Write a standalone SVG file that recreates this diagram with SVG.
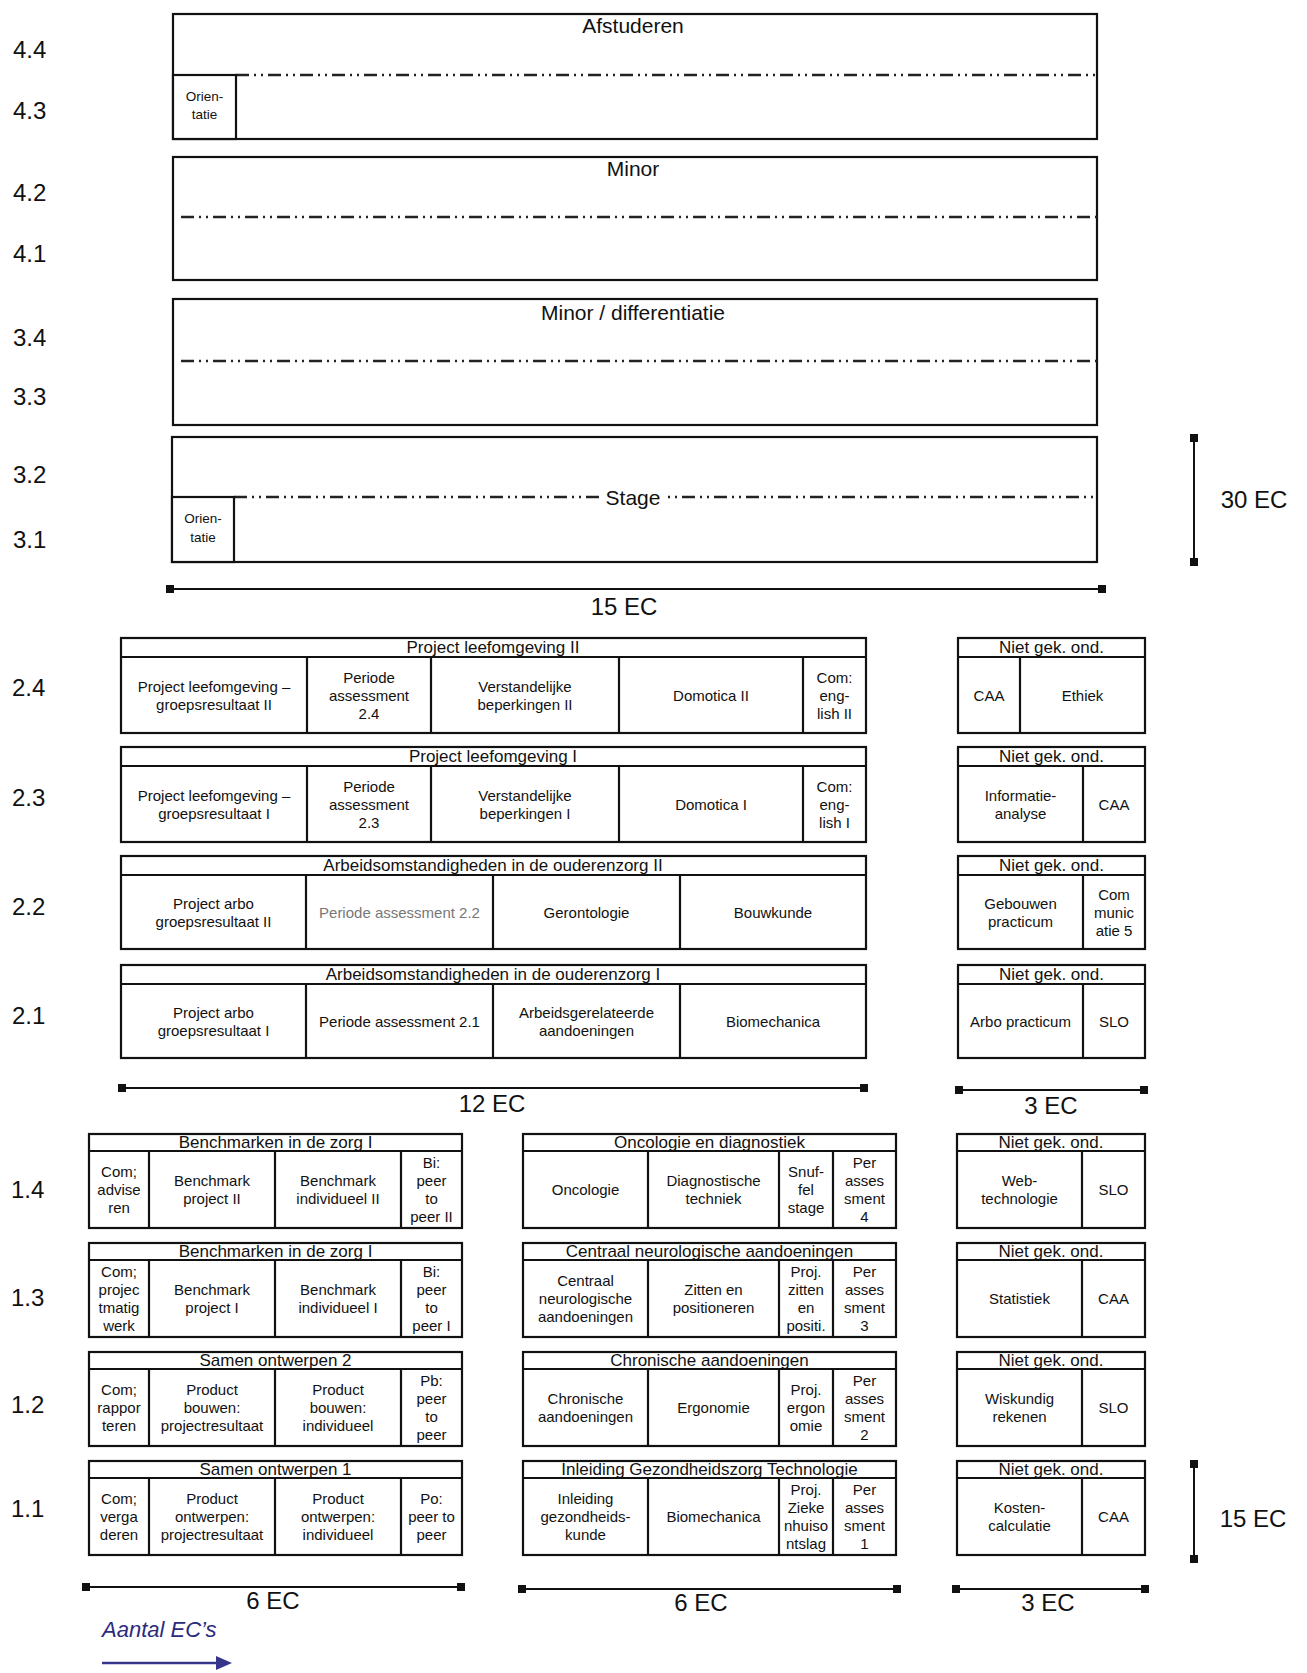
<svg xmlns="http://www.w3.org/2000/svg" width="1307" height="1673" viewBox="0 0 1307 1673">
<style>
.box{fill:#fff;stroke:#111;stroke-width:2.2}
.ln{stroke:#111;stroke-width:2.2;fill:none}
.dd{stroke:#222;stroke-width:2.4;stroke-dasharray:13 5 2 5 2 5;fill:none}
.t{font-family:"Liberation Sans",Arial,sans-serif;fill:#111;text-anchor:middle;dominant-baseline:central}
.c{font-size:15px}
.o{font-size:13.5px}
.h{font-size:17px}
.ti{font-size:21px}
.yl{font-size:24px;text-anchor:start}
.ec{font-size:24px}
.bar{stroke:#111;stroke-width:2;marker-start:url(#cap);marker-end:url(#cap)}
.grey{fill:#777}
</style>
<defs>
<marker id="cap" markerUnits="userSpaceOnUse" markerWidth="10" markerHeight="10" refX="5" refY="5" orient="auto">
<rect x="1" y="1" width="8" height="8" fill="#111"/>
</marker>
</defs>
<rect width="1307" height="1673" fill="#fff"/>

<!-- Year labels -->
<g id="year-labels" class="t yl">
<text x="13" y="49">4.4</text>
<text x="13" y="110">4.3</text>
<text x="13" y="192">4.2</text>
<text x="13" y="253">4.1</text>
<text x="13" y="337">3.4</text>
<text x="13" y="396">3.3</text>
<text x="13" y="474">3.2</text>
<text x="13" y="539">3.1</text>
<text x="12" y="687">2.4</text>
<text x="12" y="797">2.3</text>
<text x="12" y="906">2.2</text>
<text x="12" y="1015">2.1</text>
<text x="11" y="1189">1.4</text>
<text x="11" y="1297">1.3</text>
<text x="11" y="1404">1.2</text>
<text x="11" y="1508">1.1</text>
</g>

<!-- Year 4 / 3 -->
<g id="afstuderen">
<rect class="box" x="173" y="14" width="924" height="125"/>
<line class="dd" x1="236" y1="75" x2="1097" y2="75"/>
<text class="t ti" x="633" y="25">Afstuderen</text>
</g>
<g id="orientatie-4">
<rect class="box" x="173" y="75" width="63" height="64"/>
<text class="t o" x="204.5" y="96">Orien-</text>
<text class="t o" x="204.5" y="114">tatie</text>
</g>
<g id="minor">
<rect class="box" x="173" y="157" width="924" height="123"/>
<line class="dd" x1="181" y1="217" x2="1097" y2="217"/>
<text class="t ti" x="633" y="168">Minor</text>
</g>
<g id="minor-differentiatie">
<rect class="box" x="173" y="299" width="924" height="126"/>
<line class="dd" x1="181" y1="361" x2="1097" y2="361"/>
<text class="t ti" x="633" y="312">Minor / differentiatie</text>
</g>
<g id="stage">
<rect class="box" x="172" y="437" width="925" height="125"/>
<line class="dd" x1="234" y1="497" x2="1097" y2="497"/>
<rect x="601" y="485" width="64" height="24" fill="#fff"/>
<text class="t ti" x="633" y="497">Stage</text>
</g>
<g id="orientatie-3">
<rect class="box" x="172" y="497" width="62" height="65"/>
<text class="t o" x="203" y="518">Orien-</text>
<text class="t o" x="203" y="537">tatie</text>
</g>

<!-- Year 2 -->
<g id="y24" class="t c">
<rect class="box" x="121" y="638" width="745" height="95"/>
<line class="ln" x1="121" y1="657" x2="866" y2="657"/>
<line class="ln" x1="307" y1="657" x2="307" y2="733"/>
<line class="ln" x1="431" y1="657" x2="431" y2="733"/>
<line class="ln" x1="619" y1="657" x2="619" y2="733"/>
<line class="ln" x1="803" y1="657" x2="803" y2="733"/>
<text class="h" x="493" y="647">Project leefomgeving II</text>
<text x="214" y="686">Project leefomgeving –</text>
<text x="214" y="704">groepsresultaat II</text>
<text x="369" y="677">Periode</text>
<text x="369" y="695">assessment</text>
<text x="369" y="713">2.4</text>
<text x="525" y="686">Verstandelijke</text>
<text x="525" y="704">beperkingen II</text>
<text x="711" y="695">Domotica II</text>
<text x="834.5" y="677">Com:</text>
<text x="834.5" y="695">eng-</text>
<text x="834.5" y="713">lish II</text>
</g>
<g id="y23" class="t c">
<rect class="box" x="121" y="747" width="745" height="95"/>
<line class="ln" x1="121" y1="766" x2="866" y2="766"/>
<line class="ln" x1="307" y1="766" x2="307" y2="842"/>
<line class="ln" x1="431" y1="766" x2="431" y2="842"/>
<line class="ln" x1="619" y1="766" x2="619" y2="842"/>
<line class="ln" x1="803" y1="766" x2="803" y2="842"/>
<text class="h" x="493" y="756">Project leefomgeving I</text>
<text x="214" y="795">Project leefomgeving –</text>
<text x="214" y="813">groepsresultaat I</text>
<text x="369" y="786">Periode</text>
<text x="369" y="804">assessment</text>
<text x="369" y="822">2.3</text>
<text x="525" y="795">Verstandelijke</text>
<text x="525" y="813">beperkingen I</text>
<text x="711" y="804">Domotica I</text>
<text x="834.5" y="786">Com:</text>
<text x="834.5" y="804">eng-</text>
<text x="834.5" y="822">lish I</text>
</g>
<g id="y22" class="t c">
<rect class="box" x="121" y="856" width="745" height="93"/>
<line class="ln" x1="121" y1="875" x2="866" y2="875"/>
<line class="ln" x1="306" y1="875" x2="306" y2="949"/>
<line class="ln" x1="493" y1="875" x2="493" y2="949"/>
<line class="ln" x1="680" y1="875" x2="680" y2="949"/>
<text class="h" x="493" y="865">Arbeidsomstandigheden in de ouderenzorg II</text>
<text x="213.5" y="903">Project arbo</text>
<text x="213.5" y="921">groepsresultaat II</text>
<text class="grey" x="399.5" y="912">Periode assessment 2.2</text>
<text x="586.5" y="912">Gerontologie</text>
<text x="773" y="912">Bouwkunde</text>
</g>
<g id="y21" class="t c">
<rect class="box" x="121" y="965" width="745" height="93"/>
<line class="ln" x1="121" y1="984" x2="866" y2="984"/>
<line class="ln" x1="306" y1="984" x2="306" y2="1058"/>
<line class="ln" x1="493" y1="984" x2="493" y2="1058"/>
<line class="ln" x1="680" y1="984" x2="680" y2="1058"/>
<text class="h" x="493" y="974">Arbeidsomstandigheden in de ouderenzorg I</text>
<text x="213.5" y="1012">Project arbo</text>
<text x="213.5" y="1030">groepsresultaat I</text>
<text x="399.5" y="1021">Periode assessment 2.1</text>
<text x="586.5" y="1012">Arbeidsgerelateerde</text>
<text x="586.5" y="1030">aandoeningen</text>
<text x="773" y="1021">Biomechanica</text>
</g>

<g id="ngo24" class="t c">
<rect class="box" x="958" y="638" width="187" height="95"/>
<line class="ln" x1="958" y1="657" x2="1145" y2="657"/>
<line class="ln" x1="1020" y1="657" x2="1020" y2="733"/>
<text class="h" x="1051.5" y="647">Niet gek. ond.</text>
<text x="989" y="695">CAA</text>
<text x="1082.5" y="695">Ethiek</text>
</g>
<g id="ngo23" class="t c">
<rect class="box" x="958" y="747" width="187" height="95"/>
<line class="ln" x1="958" y1="766" x2="1145" y2="766"/>
<line class="ln" x1="1083" y1="766" x2="1083" y2="842"/>
<text class="h" x="1051.5" y="756">Niet gek. ond.</text>
<text x="1020.5" y="795">Informatie-</text>
<text x="1020.5" y="813">analyse</text>
<text x="1114" y="804">CAA</text>
</g>
<g id="ngo22" class="t c">
<rect class="box" x="958" y="856" width="187" height="93"/>
<line class="ln" x1="958" y1="875" x2="1145" y2="875"/>
<line class="ln" x1="1083" y1="875" x2="1083" y2="949"/>
<text class="h" x="1051.5" y="865">Niet gek. ond.</text>
<text x="1020.5" y="903">Gebouwen</text>
<text x="1020.5" y="921">practicum</text>
<text x="1114" y="894">Com</text>
<text x="1114" y="912">munic</text>
<text x="1114" y="930">atie 5</text>
</g>
<g id="ngo21" class="t c">
<rect class="box" x="958" y="965" width="187" height="93"/>
<line class="ln" x1="958" y1="984" x2="1145" y2="984"/>
<line class="ln" x1="1083" y1="984" x2="1083" y2="1058"/>
<text class="h" x="1051.5" y="974">Niet gek. ond.</text>
<text x="1020.5" y="1021">Arbo practicum</text>
<text x="1114" y="1021">SLO</text>
</g>

<!-- Year 1 left -->
<g id="y14a" class="t c">
<rect class="box" x="89" y="1134" width="373" height="94"/>
<line class="ln" x1="89" y1="1151" x2="462" y2="1151"/>
<line class="ln" x1="149" y1="1151" x2="149" y2="1228"/>
<line class="ln" x1="275" y1="1151" x2="275" y2="1228"/>
<line class="ln" x1="401" y1="1151" x2="401" y2="1228"/>
<text class="h" x="275.5" y="1142">Benchmarken in de zorg I</text>
<text x="119" y="1171">Com;</text>
<text x="119" y="1189">advise</text>
<text x="119" y="1207">ren</text>
<text x="212" y="1180">Benchmark</text>
<text x="212" y="1198">project II</text>
<text x="338" y="1180">Benchmark</text>
<text x="338" y="1198">individueel II</text>
<text x="431.5" y="1162">Bi:</text>
<text x="431.5" y="1180">peer</text>
<text x="431.5" y="1198">to</text>
<text x="431.5" y="1216">peer II</text>
</g>
<g id="y13a" class="t c">
<rect class="box" x="89" y="1243" width="373" height="94"/>
<line class="ln" x1="89" y1="1260" x2="462" y2="1260"/>
<line class="ln" x1="149" y1="1260" x2="149" y2="1337"/>
<line class="ln" x1="275" y1="1260" x2="275" y2="1337"/>
<line class="ln" x1="401" y1="1260" x2="401" y2="1337"/>
<text class="h" x="275.5" y="1251">Benchmarken in de zorg I</text>
<text x="119" y="1271">Com;</text>
<text x="119" y="1289">projec</text>
<text x="119" y="1307">tmatig</text>
<text x="119" y="1325">werk</text>
<text x="212" y="1289">Benchmark</text>
<text x="212" y="1307">project I</text>
<text x="338" y="1289">Benchmark</text>
<text x="338" y="1307">individueel I</text>
<text x="431.5" y="1271">Bi:</text>
<text x="431.5" y="1289">peer</text>
<text x="431.5" y="1307">to</text>
<text x="431.5" y="1325">peer I</text>
</g>
<g id="y12a" class="t c">
<rect class="box" x="89" y="1352" width="373" height="94"/>
<line class="ln" x1="89" y1="1369" x2="462" y2="1369"/>
<line class="ln" x1="149" y1="1369" x2="149" y2="1446"/>
<line class="ln" x1="275" y1="1369" x2="275" y2="1446"/>
<line class="ln" x1="401" y1="1369" x2="401" y2="1446"/>
<text class="h" x="275.5" y="1360">Samen ontwerpen 2</text>
<text x="119" y="1389">Com;</text>
<text x="119" y="1407">rappor</text>
<text x="119" y="1425">teren</text>
<text x="212" y="1389">Product</text>
<text x="212" y="1407">bouwen:</text>
<text x="212" y="1425">projectresultaat</text>
<text x="338" y="1389">Product</text>
<text x="338" y="1407">bouwen:</text>
<text x="338" y="1425">individueel</text>
<text x="431.5" y="1380">Pb:</text>
<text x="431.5" y="1398">peer</text>
<text x="431.5" y="1416">to</text>
<text x="431.5" y="1434">peer</text>
</g>
<g id="y11a" class="t c">
<rect class="box" x="89" y="1461" width="373" height="94"/>
<line class="ln" x1="89" y1="1478" x2="462" y2="1478"/>
<line class="ln" x1="149" y1="1478" x2="149" y2="1555"/>
<line class="ln" x1="275" y1="1478" x2="275" y2="1555"/>
<line class="ln" x1="401" y1="1478" x2="401" y2="1555"/>
<text class="h" x="275.5" y="1469">Samen ontwerpen 1</text>
<text x="119" y="1498">Com;</text>
<text x="119" y="1516">verga</text>
<text x="119" y="1534">deren</text>
<text x="212" y="1498">Product</text>
<text x="212" y="1516">ontwerpen:</text>
<text x="212" y="1534">projectresultaat</text>
<text x="338" y="1498">Product</text>
<text x="338" y="1516">ontwerpen:</text>
<text x="338" y="1534">individueel</text>
<text x="431.5" y="1498">Po:</text>
<text x="431.5" y="1516">peer to</text>
<text x="431.5" y="1534">peer</text>
</g>

<!-- Year 1 middle -->
<g id="y14b" class="t c">
<rect class="box" x="523" y="1134" width="373" height="94"/>
<line class="ln" x1="523" y1="1151" x2="896" y2="1151"/>
<line class="ln" x1="648" y1="1151" x2="648" y2="1228"/>
<line class="ln" x1="779" y1="1151" x2="779" y2="1228"/>
<line class="ln" x1="833" y1="1151" x2="833" y2="1228"/>
<text class="h" x="709.5" y="1142">Oncologie en diagnostiek</text>
<text x="585.5" y="1189">Oncologie</text>
<text x="713.5" y="1180">Diagnostische</text>
<text x="713.5" y="1198">techniek</text>
<text x="806" y="1171">Snuf-</text>
<text x="806" y="1189">fel</text>
<text x="806" y="1207">stage</text>
<text x="864.5" y="1162">Per</text>
<text x="864.5" y="1180">asses</text>
<text x="864.5" y="1198">sment</text>
<text x="864.5" y="1216">4</text>
</g>
<g id="y13b" class="t c">
<rect class="box" x="523" y="1243" width="373" height="94"/>
<line class="ln" x1="523" y1="1260" x2="896" y2="1260"/>
<line class="ln" x1="648" y1="1260" x2="648" y2="1337"/>
<line class="ln" x1="779" y1="1260" x2="779" y2="1337"/>
<line class="ln" x1="833" y1="1260" x2="833" y2="1337"/>
<text class="h" x="709.5" y="1251">Centraal neurologische aandoeningen</text>
<text x="585.5" y="1280">Centraal</text>
<text x="585.5" y="1298">neurologische</text>
<text x="585.5" y="1316">aandoeningen</text>
<text x="713.5" y="1289">Zitten en</text>
<text x="713.5" y="1307">positioneren</text>
<text x="806" y="1271">Proj.</text>
<text x="806" y="1289">zitten</text>
<text x="806" y="1307">en</text>
<text x="806" y="1325">positi.</text>
<text x="864.5" y="1271">Per</text>
<text x="864.5" y="1289">asses</text>
<text x="864.5" y="1307">sment</text>
<text x="864.5" y="1325">3</text>
</g>
<g id="y12b" class="t c">
<rect class="box" x="523" y="1352" width="373" height="94"/>
<line class="ln" x1="523" y1="1369" x2="896" y2="1369"/>
<line class="ln" x1="648" y1="1369" x2="648" y2="1446"/>
<line class="ln" x1="779" y1="1369" x2="779" y2="1446"/>
<line class="ln" x1="833" y1="1369" x2="833" y2="1446"/>
<text class="h" x="709.5" y="1360">Chronische aandoeningen</text>
<text x="585.5" y="1398">Chronische</text>
<text x="585.5" y="1416">aandoeningen</text>
<text x="713.5" y="1407">Ergonomie</text>
<text x="806" y="1389">Proj.</text>
<text x="806" y="1407">ergon</text>
<text x="806" y="1425">omie</text>
<text x="864.5" y="1380">Per</text>
<text x="864.5" y="1398">asses</text>
<text x="864.5" y="1416">sment</text>
<text x="864.5" y="1434">2</text>
</g>
<g id="y11b" class="t c">
<rect class="box" x="523" y="1461" width="373" height="94"/>
<line class="ln" x1="523" y1="1478" x2="896" y2="1478"/>
<line class="ln" x1="648" y1="1478" x2="648" y2="1555"/>
<line class="ln" x1="779" y1="1478" x2="779" y2="1555"/>
<line class="ln" x1="833" y1="1478" x2="833" y2="1555"/>
<text class="h" x="709.5" y="1469">Inleiding Gezondheidszorg Technologie</text>
<text x="585.5" y="1498">Inleiding</text>
<text x="585.5" y="1516">gezondheids-</text>
<text x="585.5" y="1534">kunde</text>
<text x="713.5" y="1516">Biomechanica</text>
<text x="806" y="1489">Proj.</text>
<text x="806" y="1507">Zieke</text>
<text x="806" y="1525">nhuiso</text>
<text x="806" y="1543">ntslag</text>
<text x="864.5" y="1489">Per</text>
<text x="864.5" y="1507">asses</text>
<text x="864.5" y="1525">sment</text>
<text x="864.5" y="1543">1</text>
</g>

<!-- Year 1 right -->
<g id="ngo14" class="t c">
<rect class="box" x="957" y="1134" width="188" height="94"/>
<line class="ln" x1="957" y1="1151" x2="1145" y2="1151"/>
<line class="ln" x1="1082" y1="1151" x2="1082" y2="1228"/>
<text class="h" x="1051" y="1142">Niet gek. ond.</text>
<text x="1019.5" y="1180">Web-</text>
<text x="1019.5" y="1198">technologie</text>
<text x="1113.5" y="1189">SLO</text>
</g>
<g id="ngo13" class="t c">
<rect class="box" x="957" y="1243" width="188" height="94"/>
<line class="ln" x1="957" y1="1260" x2="1145" y2="1260"/>
<line class="ln" x1="1082" y1="1260" x2="1082" y2="1337"/>
<text class="h" x="1051" y="1251">Niet gek. ond.</text>
<text x="1019.5" y="1298">Statistiek</text>
<text x="1113.5" y="1298">CAA</text>
</g>
<g id="ngo12" class="t c">
<rect class="box" x="957" y="1352" width="188" height="94"/>
<line class="ln" x1="957" y1="1369" x2="1145" y2="1369"/>
<line class="ln" x1="1082" y1="1369" x2="1082" y2="1446"/>
<text class="h" x="1051" y="1360">Niet gek. ond.</text>
<text x="1019.5" y="1398">Wiskundig</text>
<text x="1019.5" y="1416">rekenen</text>
<text x="1113.5" y="1407">SLO</text>
</g>
<g id="ngo11" class="t c">
<rect class="box" x="957" y="1461" width="188" height="94"/>
<line class="ln" x1="957" y1="1478" x2="1145" y2="1478"/>
<line class="ln" x1="1082" y1="1478" x2="1082" y2="1555"/>
<text class="h" x="1051" y="1469">Niet gek. ond.</text>
<text x="1019.5" y="1507">Kosten-</text>
<text x="1019.5" y="1525">calculatie</text>
<text x="1113.5" y="1516">CAA</text>
</g>

<!-- scale bars -->
<g id="connectors">
<line class="bar" x1="1194" y1="438" x2="1194" y2="562"/>
<line class="bar" x1="170" y1="589" x2="1102" y2="589"/>
<line class="bar" x1="122" y1="1088" x2="864" y2="1088"/>
<line class="bar" x1="959" y1="1090" x2="1144" y2="1090"/>
<line class="bar" x1="86" y1="1587" x2="461" y2="1587"/>
<line class="bar" x1="522" y1="1589" x2="897" y2="1589"/>
<line class="bar" x1="956" y1="1589" x2="1145" y2="1589"/>
<line class="bar" x1="1194" y1="1464" x2="1194" y2="1559"/>
<line x1="102" y1="1663" x2="220" y2="1663" stroke="#35358c" stroke-width="2.5"/>
<polygon points="216,1656 232,1663 216,1670" fill="#35358c"/>
</g>
<g id="scale-labels" class="t ec">
<text x="1254" y="499">30 EC</text>
<text x="624" y="606">15 EC</text>
<text x="492" y="1103">12 EC</text>
<text x="1051" y="1105">3 EC</text>
<text x="273" y="1600">6 EC</text>
<text x="701" y="1602">6 EC</text>
<text x="1048" y="1602">3 EC</text>
<text x="1253" y="1518">15 EC</text>
<text x="102" y="1629" style="font-style:italic;font-size:22px;text-anchor:start;fill:#2b2b7d">Aantal EC’s</text>
</g>
</svg>
